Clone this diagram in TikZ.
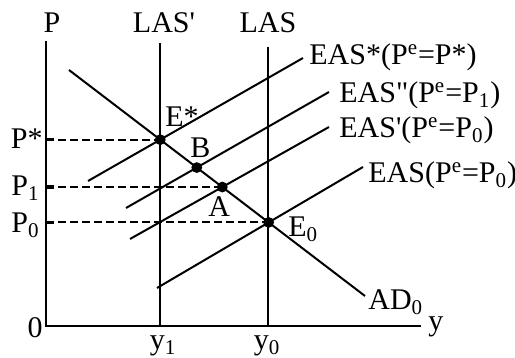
\documentclass[tikz,border=0pt]{standalone}
\usepackage{fontspec}
\setmainfont{Liberation Serif}
\begin{document}
\begin{tikzpicture}[x=0.5pt,y=-0.5pt,
  ln/.style={line width=1pt},
  dsh/.style={line width=1pt, dash pattern=on 4pt off 2pt},
  tk/.style={line width=1.6pt},
  dot/.style={circle,fill=black,inner sep=0pt,minimum size=5.4pt},
  lbl/.style={font=\fontsize{15}{17}\selectfont, inner sep=0pt}]
\useasboundingbox (0,0) rectangle (515,358);
% axes
\coordinate (O) at (46,326);
\coordinate (Ptop) at (46,41);
\coordinate (yend) at (421,326);
\draw[ln] (Ptop) -- (O) -- (yend);
% LAS lines
\coordinate (Lp1) at (160,43);
\coordinate (Lp0) at (160,326);
\coordinate (L1) at (268,47);
\coordinate (L0) at (268,326);
\draw[ln] (Lp1) -- (Lp0);
\draw[ln] (L1) -- (L0);
% AD
\coordinate (AD1) at (69,70);
\coordinate (AD2) at (365,296);
\draw[ln] (AD1) -- (AD2);
% EAS lines
\coordinate (Sa1) at (88,181);  \coordinate (Sa2) at (303,58);
\coordinate (Sb1) at (126,208); \coordinate (Sb2) at (329,92);
\coordinate (Sc1) at (130,239); \coordinate (Sc2) at (329,127);
\coordinate (Sd1) at (157,288); \coordinate (Sd2) at (363,167);
\draw[ln] (Sa1) -- (Sa2);
\draw[ln] (Sb1) -- (Sb2);
\draw[ln] (Sc1) -- (Sc2);
\draw[ln] (Sd1) -- (Sd2);
% points
\coordinate (Es) at (intersection of AD1--AD2 and Sa1--Sa2);
\coordinate (B) at (intersection of AD1--AD2 and Sb1--Sb2);
\coordinate (A) at (intersection of AD1--AD2 and Sc1--Sc2);
\coordinate (E0) at (intersection of AD1--AD2 and Sd1--Sd2);
% dashed
\draw[dsh] (O |- Es) -- (Es);
\draw[dsh] (O |- A) -- (A);
\draw[dsh] (O |- E0) -- (E0);
\draw[tk] (O |- Es) -- ++(8,0);
\draw[tk] (O |- A) -- ++(8,0);
\draw[tk] (O |- E0) -- ++(8,0);
\node[dot] at (Es) {};
\node[dot] at (B) {};
\node[dot] at (A) {};
\node[dot] at (E0) {};
% labels
\node[lbl,anchor=base] (tP) at (52,33) {P};
\node[lbl,anchor=base] (tLASp) at (164,33) {LAS\textquotesingle};
\node[lbl,anchor=base] (tLAS) at (268,33) {LAS};
\node[lbl,anchor=base west] (tSa) at (309,65) {EAS*(P\textsuperscript{e}=P*)};
\node[lbl,anchor=base west] (tSb) at (339,103) {EAS\textquotedbl(P\textsuperscript{e}=P\textsubscript{1})};
\node[lbl,anchor=base west] (tSc) at (339,138) {EAS\textquotesingle(P\textsuperscript{e}=P\textsubscript{0})};
\node[lbl,anchor=base west] (tSd) at (368,183) {EAS(P\textsuperscript{e}=P\textsubscript{0})};
\node[lbl,anchor=base west] (tEs) at (165,127) {E*};
\node[lbl,anchor=base west] (tB) at (190,158) {B};
\node[lbl,anchor=base west] (tA) at (208,217) {A};
\node[lbl,anchor=base west] (tE0) at (288,237) {E\textsubscript{0}};
\node[lbl,anchor=base west] (tAD) at (368,310) {AD\textsubscript{0}};
\node[lbl,anchor=base west] (ty) at (428,330) {y};
\node[lbl,anchor=base] (ty1) at (163,350) {y\textsubscript{1}};
\node[lbl,anchor=base] (ty0) at (267,350) {y\textsubscript{0}};
\node[lbl,anchor=base east] (tPs) at (43,149) {P*};
\node[lbl,anchor=base east] (tP1) at (40,196) {P\textsubscript{1}};
\node[lbl,anchor=base east] (tP0) at (40,233) {P\textsubscript{0}};
\node[lbl,anchor=base east] (t0) at (43,337) {0};
\end{tikzpicture}
\end{document}
